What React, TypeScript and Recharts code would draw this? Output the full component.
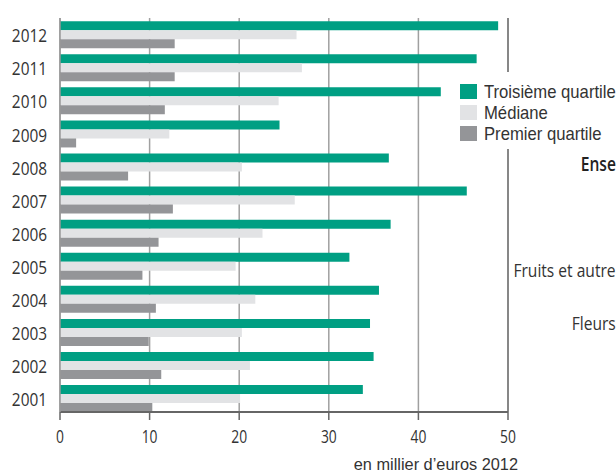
import {
  BarChart,
  Bar,
  XAxis,
  YAxis,
  CartesianGrid,
  ReferenceLine,
  Legend
} from 'recharts'

const years = ['2012', '2011', '2010', '2009', '2008', '2007', '2006', '2005', '2004', '2003', '2002', '2001']
const thirdQuartile = [48.9, 46.5, 42.5, 24.5, 36.7, 45.4, 36.9, 32.3, 35.6, 34.6, 35.0, 33.8]
const median = [26.4, 27.0, 24.4, 12.2, 20.3, 26.2, 22.6, 19.6, 21.8, 20.3, 21.2, 20.1]
const firstQuartile = [12.8, 12.8, 11.7, 1.8, 7.6, 12.6, 11.0, 9.2, 10.7, 9.9, 11.3, 10.3]
const xTicks = [0, 10, 20, 30, 40, 50]

const GREEN = '#009f83'
const LIGHT = '#e2e3e5'
const DARK = '#949598'
const INK = '#333'
const FONT = '"Open Sans", "Liberation Sans", sans-serif'
const LEGEND_FONT = '"Liberation Sans", Arial, sans-serif'

const series = [
  { key: 'q3', name: 'Troisième quartile', color: GREEN },
  { key: 'med', name: 'Médiane', color: LIGHT },
  { key: 'q1', name: 'Premier quartile', color: DARK }
]

const data = years.map((year, i) => ({
  year,
  q3: thirdQuartile[i],
  med: median[i],
  q1: firstQuartile[i]
}))

// the original uses a condensed face, so texts are squeezed horizontally
function YearTick({ x, y, payload }: any) {
  return (
    <g transform={`translate(${x},${y + 1})`}>
      <text transform="scale(0.81,1)" textAnchor="end" dy="0.355em" fontSize={19} fill={INK} fontFamily={FONT}>
        {payload.value}
      </text>
    </g>
  )
}

function ValueTick({ x, y, payload }: any) {
  return (
    <g transform={`translate(${x},${y})`}>
      <text transform="scale(0.77,1)" textAnchor="middle" dy="0.71em" fontSize={18} fill={INK} fontFamily={FONT}>
        {payload.value}
      </text>
    </g>
  )
}

function Narrow({ children, scale = 0.82, origin = 'left' }: { children: any; scale?: number; origin?: string }) {
  return (
    <span style={{ display: 'inline-block', transform: `scaleX(${scale})`, transformOrigin: origin, whiteSpace: 'nowrap' }}>
      {children}
    </span>
  )
}

function LegendBox() {
  return (
    <div style={{ background: '#fff', padding: '9px 0 5px 5px', fontFamily: LEGEND_FONT }}>
      {series.map(s => (
        <div key={s.key} style={{ display: 'flex', alignItems: 'center', height: 21 }}>
          <span style={{ flexShrink: 0, width: 17, height: 15, background: s.color, marginRight: 7 }} />
          <span style={{ fontSize: 18.5, color: INK, lineHeight: '21px', whiteSpace: 'nowrap' }}>
            <Narrow scale={0.9}>{s.name}</Narrow>
          </span>
        </div>
      ))}
    </div>
  )
}

const sideText = {
  position: 'absolute' as const,
  fontFamily: FONT,
  fontSize: 19,
  color: INK,
  whiteSpace: 'nowrap' as const,
  lineHeight: '22px',
  textAlign: 'right' as const
}

export default function App() {
  return (
    <div style={{ position: 'absolute', left: 0, top: 0, width: 616, height: 473, overflow: 'hidden', background: '#fff' }}>
      <BarChart
        width={616}
        height={473}
        data={data}
        layout="vertical"
        margin={{ top: 18, right: 108, left: 0, bottom: 31 }}
        barGap={0}
        barCategoryGap={3.2}
      >
        <CartesianGrid horizontal={false} stroke="#a0a0a0" strokeWidth={1.5} />
        <XAxis
          type="number"
          domain={[0, 50]}
          ticks={xTicks}
          height={30}
          axisLine={{ stroke: '#666', strokeWidth: 2 }}
          tickLine={{ stroke: '#666', strokeWidth: 1.5 }}
          tickSize={8}
          tickMargin={10}
          tick={<ValueTick />}
        />
        <YAxis
          type="category"
          dataKey="year"
          width={60}
          padding={{ top: 0, bottom: -3 }}
          axisLine={{ stroke: '#999', strokeWidth: 1.5 }}
          tickLine={false}
          tickSize={0}
          tickMargin={13}
          tick={<YearTick />}
        />
        <ReferenceLine x={50} stroke="#777" strokeWidth={1.5} />
        {series.map(s => (
          <Bar key={s.key} dataKey={s.key} name={s.name} fill={s.color} isAnimationActive={false} />
        ))}
        <Legend
          layout="vertical"
          align="center"
          verticalAlign="middle"
          content={<LegendBox />}
          wrapperStyle={{ left: 455, top: 72, width: 161 }}
        />
      </BarChart>
      <div style={{ ...sideText, right: 98, top: 455.5, fontSize: 16, lineHeight: '17px', fontFamily: LEGEND_FONT }}>
        <Narrow scale={1.02} origin="right">en millier d’euros 2012</Narrow>
      </div>
      <div style={{ ...sideText, right: 0, top: 153, fontWeight: 600, color: '#222' }}>
        <Narrow origin="right">Ense</Narrow>
      </div>
      <div style={{ ...sideText, right: 0, top: 259 }}>
        <Narrow origin="right">Fruits et autre</Narrow>
      </div>
      <div style={{ ...sideText, right: 0, top: 312 }}>
        <Narrow origin="right">Fleurs</Narrow>
      </div>
    </div>
  )
}
